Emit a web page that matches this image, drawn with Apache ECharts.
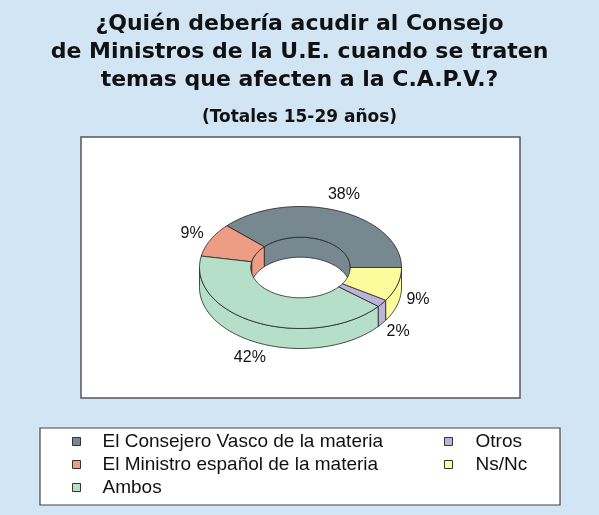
<!DOCTYPE html>
<html>
<head>
<meta charset="utf-8">
<script src="https://cdn.jsdelivr.net/npm/echarts@6/dist/echarts.min.js"></script>
<style>
  html, body { margin: 0; padding: 0; background: #d2e5f4; }
  #main { width: 599px; height: 515px; }
</style>
</head>
<body>
<div id="main"></div>
<script>
// categorias y porcentajes (orden de la leyenda)
const names = ['El Consejero Vasco de la materia', 'El Ministro español de la materia', 'Ambos', 'Otros', 'Ns/Nc'];
const values = [38, 9, 42, 2, 9];
const colors = ['#778891', '#ee9d85', '#b5dfc8', '#bdb3da', '#fdfc9d'];

const total = values.reduce((a, b) => a + b, 0);
const starts = [];
let acc = 0;
values.forEach(v => { starts.push(acc); acc += v; });

// geometria del anillo en perspectiva
const CX = 300.5, CY = 267.5;
const RX = 101, RY = 61;
const RXI = 49.7, RYI = 30.3;
const DEPTH = 20;
const FONT = "'Liberation Sans', Arial, sans-serif";

function arc(from, to, rx, ry, dy) {
  const n = Math.max(2, Math.ceil(Math.abs(to - from) / (Math.PI / 90)));
  const pts = [];
  for (let i = 0; i <= n; i++) {
    const a = from + (to - from) * i / n;
    pts.push([CX + rx * Math.cos(a), CY - ry * Math.sin(a) + dy]);
  }
  return pts;
}

function renderItem(params, api) {
  const start = api.value(0), v = api.value(1);
  const a1 = start / total * Math.PI * 2;
  const a2 = (start + v) / total * Math.PI * 2;
  const color = colors[params.seriesIndex];
  const line = { stroke: '#222', lineWidth: 0.8, lineJoin: 'round' };
  const children = [];

  // pared interior (parte de atras, se ve por el agujero)
  let s = Math.max(a1, 0), e = Math.min(a2, Math.PI);
  if (e > s) {
    children.push({
      type: 'polygon', z2: 1,
      shape: { points: arc(s, e, RXI, RYI, 0).concat(arc(e, s, RXI, RYI, DEPTH)) },
      style: Object.assign({ fill: color }, line)
    });
  }
  // pared exterior (parte delantera)
  s = Math.max(a1, Math.PI); e = Math.min(a2, Math.PI * 2);
  if (e > s) {
    children.push({
      type: 'polygon', z2: 2,
      shape: { points: arc(s, e, RX, RY, 0).concat(arc(e, s, RX, RY, DEPTH)) },
      style: Object.assign({ fill: color }, line)
    });
  }
  // cara superior
  children.push({
    type: 'polygon', z2: 3,
    shape: { points: arc(a1, a2, RX, RY, 0).concat(arc(a2, a1, RXI, RYI, 0)) },
    style: Object.assign({ fill: color }, line)
  });

  // etiqueta de porcentaje
  const m = (a1 + a2) / 2;
  const c = Math.cos(m), sn = Math.sin(m);
  const txt = Math.round(v / total * 100) + '%';
  const halfW = txt.length * 5.4, halfH = 6.5, gap = 11;
  const lower = sn < 0 ? DEPTH * Math.min(1, Math.abs(sn) * 2) : 0;
  const x = CX + RX * c + gap * c + halfW * c * Math.abs(c);
  const y = CY - RY * sn + lower - gap * sn - halfH * sn * Math.abs(sn);
  children.push({
    type: 'text', z2: 4, x: x, y: y,
    style: { text: txt, align: 'center', verticalAlign: 'middle', fontSize: 16, fontFamily: FONT, fill: '#111' }
  });

  return { type: 'group', children: children };
}

const chart = echarts.init(document.getElementById('main'));

const legendText = { fontSize: 19, fontFamily: FONT, color: '#111' };

chart.setOption({
  backgroundColor: '#d2e5f4',
  animation: false,
  title: [{
    text: '¿Quién debería acudir al Consejo\nde Ministros de la U.E. cuando se traten\ntemas que afecten a la C.A.P.V.?',
    left: 'center', top: 10, padding: 0,
    textStyle: { fontFamily: "'DejaVu Sans', sans-serif", fontWeight: 'bold', fontSize: 22, lineHeight: 28, color: '#111' }
  }, {
    text: '(Totales 15-29 años)',
    left: 'center', top: 108, padding: 0,
    textStyle: { fontFamily: "'DejaVu Sans', sans-serif", fontWeight: 'bold', fontSize: 17, lineHeight: 20, color: '#111' }
  }],
  graphic: [{
    type: 'rect', z: -1,
    shape: { x: 81, y: 137, width: 439, height: 261 },
    style: { fill: '#fff', stroke: '#555', lineWidth: 1.5 }
  }, {
    type: 'rect', z: -1,
    shape: { x: 40, y: 428, width: 520, height: 77 },
    style: { fill: '#fff', stroke: '#444', lineWidth: 1.2 }
  }],
  legend: [{
    data: names.slice(0, 3),
    orient: 'vertical', left: 72, top: 432, padding: 0,
    itemWidth: 8, itemHeight: 8, itemGap: 4, icon: 'rect',
    itemStyle: { borderColor: '#333', borderWidth: 1 },
    textStyle: Object.assign({ padding: [0, 0, 0, 17] }, legendText),
    selectedMode: false
  }, {
    data: names.slice(3),
    orient: 'vertical', left: 444, top: 432, padding: 0,
    itemWidth: 8, itemHeight: 8, itemGap: 4, icon: 'rect',
    itemStyle: { borderColor: '#333', borderWidth: 1 },
    textStyle: Object.assign({ padding: [0, 0, 0, 18] }, legendText),
    selectedMode: false
  }],
  series: names.map((n, i) => ({
    name: n,
    type: 'custom',
    coordinateSystem: 'none',
    silent: true,
    itemStyle: { color: colors[i] },
    data: [[starts[i], values[i]]],
    renderItem: renderItem
  }))
});
</script>
</body>
</html>
